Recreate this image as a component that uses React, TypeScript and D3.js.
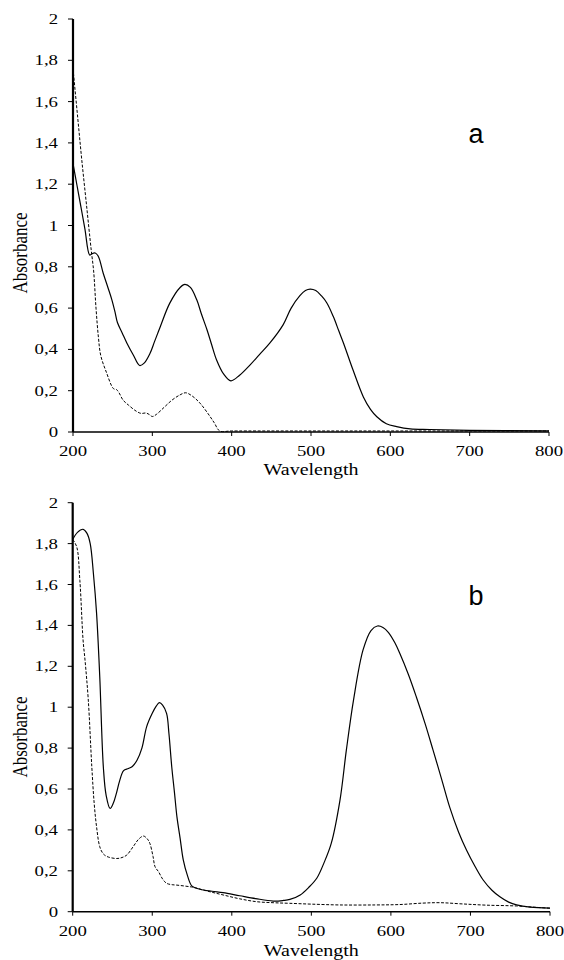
import React from "react";
import * as d3 from "d3";

// spectrum a: [wavelength, absorbance]
const solidA: [number, number][] = [
  [200, 1.3], [205, 1.195], [210, 1.09], [215, 0.984], [221, 0.857], [224, 0.864], [228, 0.867],
  [232, 0.85], [238, 0.77], [244, 0.7], [249, 0.64],
  [253, 0.58], [256, 0.53], [262, 0.48], [268, 0.43], [276, 0.373], [284, 0.322], [290, 0.335],
  [297, 0.38], [303, 0.44], [310, 0.51], [322, 0.624], [335, 0.7], [341, 0.715], [348, 0.7],
  [356, 0.64], [362, 0.57], [369, 0.494], [375, 0.42], [381, 0.349], [390, 0.28], [399, 0.248],
  [410, 0.275], [423, 0.324], [435, 0.375], [448, 0.43], [465, 0.52], [475, 0.6], [486, 0.66],
  [493, 0.685], [499, 0.692], [506, 0.685], [513, 0.66], [520, 0.625], [528, 0.56], [535, 0.49],
  [541, 0.43], [553, 0.3], [566, 0.17], [575, 0.11], [583, 0.074], [595, 0.04], [608, 0.026],
  [625, 0.015], [650, 0.012], [700, 0.008], [800, 0.005],
];
const dashedA: [number, number][] = [
  [200, 1.76], [206, 1.52], [211, 1.32], [217, 1.1], [223, 0.88], [226, 0.78], [229, 0.6], [232, 0.46],
  [235, 0.37], [242, 0.29],
  [251, 0.21], [255, 0.205], [258, 0.19], [263, 0.155], [270, 0.13], [280, 0.1], [286, 0.09],
  [292, 0.092], [296, 0.085], [300, 0.075], [305, 0.085], [315, 0.12], [325, 0.155], [335, 0.18],
  [342, 0.19], [350, 0.175], [360, 0.14], [370, 0.09], [378, 0.045], [385, 0.005], [400, 0.005],
  [500, 0.005], [600, 0.005], [700, 0.005], [800, 0.005],
];

// spectrum b
const solidB: [number, number][] = [
  [200, 1.82], [206, 1.855], [213, 1.87], [218, 1.85], [222, 1.8], [226, 1.655], [230, 1.46],
  [234, 1.15], [238.5, 0.709], [242, 0.57], [247, 0.505], [251, 0.53], [255, 0.58], [259, 0.64],
  [264, 0.69], [270, 0.7], [275, 0.71], [281, 0.742], [287, 0.8], [293, 0.905], [300, 0.97],
  [305, 1.005], [309, 1.022], [313, 1.01], [318, 0.97], [321, 0.87], [324.5, 0.709], [328, 0.58],
  [331, 0.465], [335, 0.36], [339, 0.253], [344, 0.18], [350, 0.125], [360, 0.11], [375, 0.1],
  [389, 0.093], [410, 0.078], [430, 0.064], [452, 0.052], [465, 0.055], [473, 0.06], [486, 0.082],
  [497, 0.12], [507, 0.165], [516, 0.24], [525, 0.334], [536, 0.546], [544, 0.79], [553, 1.035],
  [565, 1.28], [575, 1.375], [583, 1.397], [590, 1.39], [597, 1.365], [605, 1.315], [611, 1.265],
  [622, 1.16], [632, 1.05], [643, 0.92], [653, 0.79], [664, 0.645], [674, 0.51], [685, 0.39],
  [695, 0.302], [706, 0.22], [716, 0.155], [727, 0.105], [737, 0.073], [748, 0.047], [758, 0.033],
  [775, 0.022], [800, 0.017],
];
const dashedB: [number, number][] = [
  [200, 1.82], [205, 1.785], [209, 1.62], [213, 1.33], [215.5, 1.23], [219.6, 1.035], [224, 0.71],
  [227, 0.53], [230, 0.415], [234, 0.318], [238, 0.285], [243, 0.27], [255, 0.26], [262, 0.265],
  [268, 0.277], [276, 0.318], [283, 0.355], [289, 0.37], [294, 0.355], [297, 0.334], [301, 0.27],
  [303.5, 0.22], [308, 0.195], [313, 0.16], [318, 0.139], [325, 0.132], [331, 0.13], [347.5, 0.122],
  [352, 0.119], [370, 0.1], [389, 0.082], [410, 0.063], [431, 0.049], [452, 0.044], [473, 0.041],
  [500, 0.037], [536, 0.033], [580, 0.033], [611, 0.035], [640, 0.042], [662, 0.044], [690, 0.038],
  [720, 0.032], [758, 0.028], [780, 0.022], [800, 0.017],
];

const xTicks = [200, 300, 400, 500, 600, 700, 800];
const yTicks = [0, 0.2, 0.4, 0.6, 0.8, 1, 1.2, 1.4, 1.6, 1.8, 2];

const serif = "Liberation Serif, DejaVu Serif, serif";
const stretch = 1.25;

const fmt = (v: number) => (Math.round(v * 10) / 10).toString().replace(".", ",");

function Panel({ x0, x1, y0, y1, label, labelY, absY, tickBase, titleBase, solid, dashed }: any) {
  const x = d3.scaleLinear().domain([200, 800]).range([x0, x1]);
  const y = d3.scaleLinear().domain([0, 2]).range([y0, y1]);
  const line = d3.line<[number, number]>()
    .x(d => x(d[0]))
    .y(d => y(d[1]))
    .curve(d3.curveCatmullRom.alpha(0.5));

  return (
    <g>
      {/* curves */}
      <path d={line(dashed) || ""} fill="none" stroke="#000" strokeWidth={1} strokeDasharray="3,1.6" />
      <path d={line(solid) || ""} fill="none" stroke="#000" strokeWidth={1.2} />

      {/* x axis */}
      <line x1={x0} x2={x1} y1={y0} y2={y0} stroke="#000" strokeWidth={1.6} />
      {xTicks.map(t => (
        <g key={t}>
          <line x1={x(t)} x2={x(t)} y1={y0} y2={y0 + 4} stroke="#000" strokeWidth={1} />
          <text
            transform={`translate(${x(t)},${tickBase}) scale(${stretch},1)`}
            textAnchor="middle"
            fontFamily={serif}
            fontSize={15}
            fill="#000"
          >
            {t}
          </text>
        </g>
      ))}
      <text
        transform={`translate(${(x0 + x1) / 2},${titleBase}) scale(${stretch},1)`}
        textAnchor="middle"
        fontFamily={serif}
        fontSize={16}
        fill="#000"
      >
        Wavelength
      </text>

      {/* y axis */}
      <line x1={x0} x2={x0} y1={y(2)} y2={y0} stroke="#000" strokeWidth={2.2} />
      {yTicks.map(t => (
        <g key={t}>
          <line x1={x0 - 5} x2={x0} y1={y(t)} y2={y(t)} stroke="#000" strokeWidth={1} />
          <text
            transform={`translate(58,${y(t) + 5}) scale(${stretch},1)`}
            textAnchor="end"
            fontFamily={serif}
            fontSize={15}
            fill="#000"
          >
            {fmt(t)}
          </text>
        </g>
      ))}
      <text
        transform={`translate(27,${absY}) scale(${stretch},1) rotate(-90)`}
        textAnchor="middle"
        fontFamily={serif}
        fontSize={17}
        fill="#000"
      >
        Absorbance
      </text>

      <text x={476} y={labelY} textAnchor="middle" fontFamily="Liberation Sans, Arial, sans-serif" fontSize={27} fill="#000">
        {label}
      </text>
    </g>
  );
}

export default function App() {
  return (
    <svg width={564} height={960} style={{ position: "absolute", left: 0, top: 0, background: "#fff" }}>
      <rect width={564} height={960} fill="#fff" />
      <Panel x0={73} x1={549} y0={432} y1={19} label="a" labelY={143} absY={253}
        tickBase={456} titleBase={475} solid={solidA} dashed={dashedA} />
      <Panel x0={72.7} x1={550} y0={911.7} y1={502.7} label="b" labelY={605} absY={737}
        tickBase={936} titleBase={956} solid={solidB} dashed={dashedB} />
    </svg>
  );
}
